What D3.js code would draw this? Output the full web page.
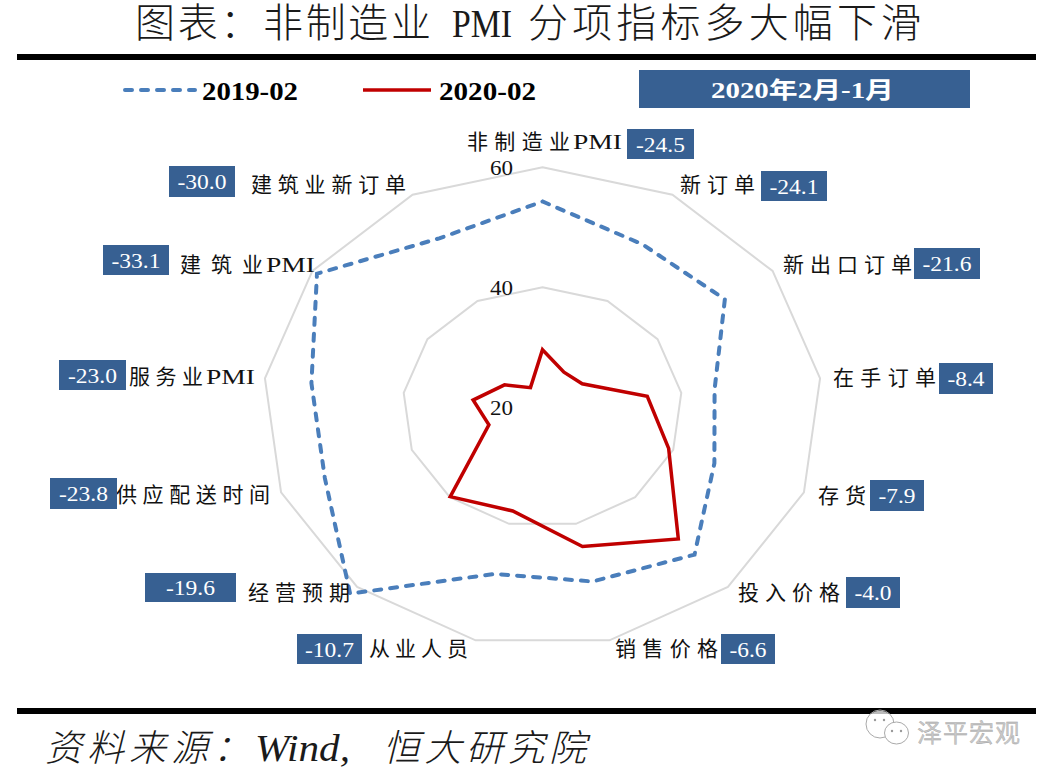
<!DOCTYPE html>
<html><head><meta charset="utf-8">
<script src="https://cdnjs.cloudflare.com/ajax/libs/d3/7.8.5/d3.min.js"></script>
<style>html,body{margin:0;padding:0;background:#fff}svg{display:block}</style>
</head><body><svg id="c" width="1054" height="776"></svg>
<script>
const categories=["非制造业PMI","新订单","新出口订单","在手订单","存货","投入价格","销售价格","从业人员","经营预期","供应配送时间","服务业PMI","建筑业PMI","建筑业新订单"];
const series2019=[54.3,50.7,51.7,44.8,46.3,52.8,49.9,48.6,61.5,53.3,53.3,59.2,51.8];
const series2020=[29.6,26.6,26.9,35.1,39.3,49.3,43.9,37.8,39.9,28.2,30.0,26.6,23.7];
const changes=["-24.5","-24.1","-21.6","-8.4","-7.9","-4.0","-6.6","-10.7","-19.6","-23.8","-23.0","-33.1","-30.0"];
const ringTicks=[20,40,60];
const seriesNames=["2019-02","2020-02"];
const titleParts=["图表：非制造业","PMI","分项指标多大幅下滑"];
const badgeTitle="2020年2月-1月";
const sourceParts=["资料来源：","Wind,","恒大研究院"];
const watermark="泽平宏观";

// layout of the annotations: label [x0,x1,yCentre], box [x0,x1,y0,y1]
const labelLayout=[[467,622,142],[680,755,185],[783,912,265],[833,936,378],[818,866,496],[738,840,593],[615,718,649],[369,468,649],[248,350,593],[116,270,495],[129,255,377],[180,315,265],[251,406,185]];
const boxLayout=[[627,694,129,159],[761,827,171,201],[914,980,248,279],[939,993,363,394],[870,924,480,511],[846,900,577,608],[721,775,634,664],[297,362,634,664],[145,236,573,602],[50,117,478,509],[59,126,360,390],[103,169,245,275],[169,235,166,197]];

const serif='"Liberation Serif","Noto Sans CJK SC",serif';
const svg=d3.select("#c");
const cx=542.5,cy=407.3,R=240,stretch=1.165;
const ry=d3.scaleLinear().domain([20,60]).range([0,R]);
const rx=d3.scaleLinear().domain([20,60]).range([0,R*stretch]);
const ang=d3.scalePoint().domain(d3.range(categories.length)).range([0,2*Math.PI*(categories.length-1)/categories.length]);
const px=(v,i)=>cx+Math.sin(ang(i))*rx(v), py=(v,i)=>cy-Math.cos(ang(i))*ry(v);
const line=d3.line().x((v,i)=>px(v,i)).y((v,i)=>py(v,i)).curve(d3.curveLinearClosed);

// rules
svg.selectAll("rect.rule").data([54,708]).join("rect").attr("class","rule").attr("x",17).attr("y",d=>d).attr("width",1019).attr("height",6).attr("fill","#000");

function txt(s,x,y,o){
  const t=svg.append("text").attr("x",x).attr("y",y).text(s)
   .attr("font-family",o.ff||serif).attr("font-size",o.fs).attr("fill",o.fill||"#000")
   .attr("dominant-baseline","central");
  if(o.weight)t.attr("font-weight",o.weight);
  if(o.italic)t.attr("font-style","italic");
  if(o.anchor)t.attr("text-anchor",o.anchor);
  if(o.len){t.attr("textLength",o.len).attr("lengthAdjust",o.adj||"spacing");}
  return t;
}

// title
txt(titleParts[0],135,23,{fs:40,len:296,fill:"#1a1a1a",weight:300});
txt(titleParts[1],452,23,{fs:40,len:60,fill:"#1a1a1a",adj:"spacingAndGlyphs"});
txt(titleParts[2],528,23,{fs:40,len:393,fill:"#1a1a1a",weight:300});

// legend
svg.append("path").attr("d",d3.line()([[125,90],[195,90]])).attr("stroke","#4a7ebb").attr("stroke-width",4).attr("stroke-dasharray","7 9").attr("stroke-linecap","round").attr("fill","none");
svg.append("path").attr("d",d3.line()([[363,90],[431,90]])).attr("stroke","#c00000").attr("stroke-width",3.5).attr("fill","none");
txt(seriesNames[0],202,91,{fs:25,weight:"bold",len:96,adj:"spacingAndGlyphs"});
txt(seriesNames[1],439,91,{fs:25,weight:"bold",len:97,adj:"spacingAndGlyphs"});
svg.append("rect").attr("x",639).attr("y",70).attr("width",331).attr("height",38).attr("fill","#376092");
txt(badgeTitle,711,90,{fs:23,weight:"bold",fill:"#fff",len:183,adj:"spacingAndGlyphs"});

// rings
svg.append("g").selectAll("path").data(ringTicks.slice(1)).join("path")
 .attr("d",t=>line(categories.map(()=>t))).attr("fill","none").attr("stroke","#d9d9d9").attr("stroke-width",2);

// series
svg.append("path").attr("d",line(series2019)).attr("fill","none").attr("stroke","#4a7ebb").attr("stroke-width",4).attr("stroke-dasharray","7 9").attr("stroke-linecap","round");
svg.append("path").attr("d",line(series2020)).attr("fill","none").attr("stroke","#c00000").attr("stroke-width",3.5).attr("stroke-linejoin","miter");

// ring labels
ringTicks.forEach(t=>txt(String(t),513,cy-ry(t)+1,{fs:20,anchor:"end",len:23,adj:"spacingAndGlyphs",fill:"#111"}));

// category labels and change boxes
categories.forEach((c,i)=>{
  const [a,b,y]=labelLayout[i];
  if(c.endsWith("PMI")){
    const w=49;
    txt(c.slice(0,-3),a,y,{fs:21,len:b-a-w-3,fill:"#111"});
    txt("PMI",b-w,y,{fs:21,len:w,adj:"spacingAndGlyphs",fill:"#111"});
  } else {
    txt(c,a,y,{fs:21,len:b-a,fill:"#111"});
  }
  const [x0,x1,y0,y1]=boxLayout[i];
  svg.append("rect").attr("x",x0).attr("y",y0).attr("width",x1-x0).attr("height",y1-y0).attr("fill","#376092");
  txt(changes[i],(x0+x1)/2,(y0+y1)/2+0.5,{fs:20,fill:"#fff",anchor:"middle",len:changes[i].length>4?49:37,adj:"spacingAndGlyphs"});
});

// source
txt(sourceParts[0],45,748,{fs:37,italic:true,len:205,fill:"#1a1a1a",weight:300});
txt(sourceParts[1],255,748,{fs:37,italic:true,len:95,adj:"spacingAndGlyphs",fill:"#1a1a1a"});
txt(sourceParts[2],383,748,{fs:37,italic:true,len:203,fill:"#1a1a1a",weight:300});

// watermark
svg.append("path").attr("d","M871,714 A14,14 0 0 1 889,714 Z").attr("fill","#bbb");
const wm=svg.append("g").attr("fill","none").attr("stroke","#aaa").attr("stroke-width",1);
wm.append("ellipse").attr("cx",880).attr("cy",724).attr("rx",14).attr("ry",14);
wm.append("ellipse").attr("cx",896.5).attr("cy",733).attr("rx",12).attr("ry",11).attr("fill","#fff");
svg.append("g").attr("fill","#999").selectAll("circle").data([[875,720],[884,720],[892,731],[901,731]]).join("circle")
 .attr("cx",d=>d[0]).attr("cy",d=>d[1]).attr("r",1.2);
txt(watermark,917,731,{fs:25,fill:"#c8c8c8",len:103,ff:'"Noto Sans CJK SC",sans-serif'}).attr("stroke","#999").attr("stroke-width",0.3);
</script></body></html>
